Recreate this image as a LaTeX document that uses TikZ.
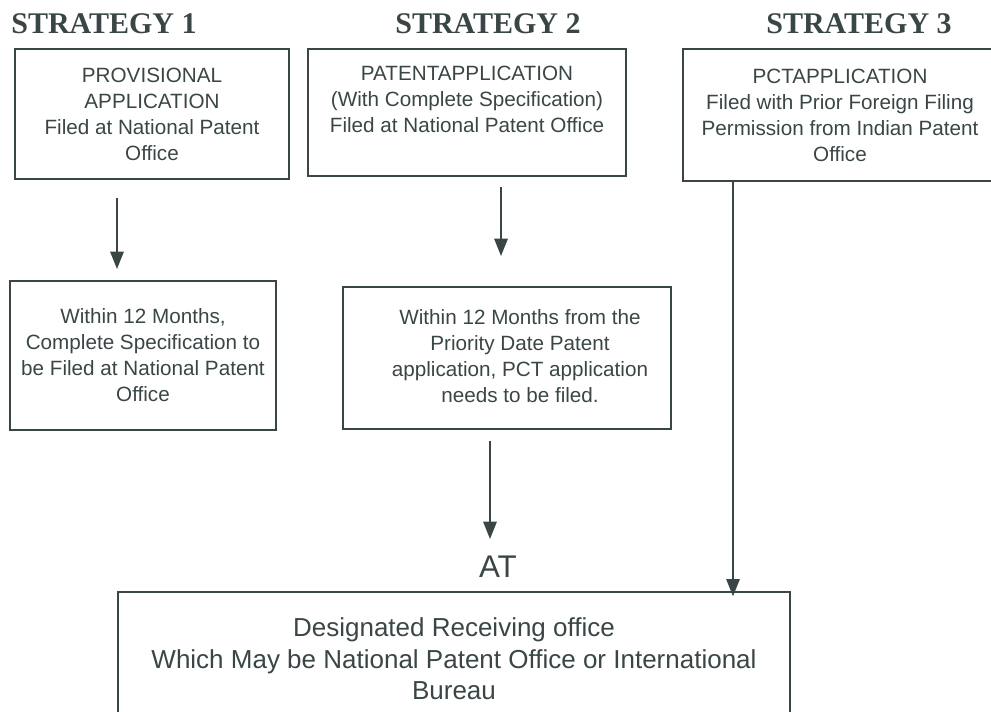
\documentclass[tikz,border=0pt]{standalone}
\usepackage{fontspec}
\setmainfont{Liberation Sans}
\newfontfamily\headfont{Liberation Serif}
\usepackage{tikz}
\usetikzlibrary{arrows.meta,positioning}
\definecolor{ink}{RGB}{58,70,70}
\tikzset{
    mybox/.style={rectangle,draw=ink,line width=1.5pt,text=ink,align=center,
      font=\fontsize{15.5}{19.5}\selectfont,inner sep=0pt},
    myhead/.style={text=ink,font=\headfont\bfseries\fontsize{22.5}{26}\selectfont,inner sep=0pt},
    pil/.style={-{Triangle[length=13pt,width=10pt]},draw=ink,line width=1.5pt}
}

\begin{document}
\begin{tikzpicture}[x=0.75pt,y=-0.75pt]
    \useasboundingbox (0,0) rectangle (991,711);
    \clip (0,0) rectangle (991,711);
    % headings
    \node[myhead] (head1) at (104,24) {STRATEGY 1};
    \node[myhead] (head2) at (488,24) {STRATEGY 2};
    \node[myhead] (head3) at (859,24) {STRATEGY 3};
    % first row
    \node[mybox, minimum width=205.5pt, minimum height=97.5pt] (prov) at (152,114)
      {PROVISIONAL\\APPLICATION\\Filed at National Patent\\Office};
    \node[mybox, minimum width=238.5pt, minimum height=95.25pt] (patent) at (467,112.5)
      {PATENTAPPLICATION\\(With Complete Specification)\\Filed at National Patent Office\\[-6pt]\strut};
    \node[mybox, minimum width=235.5pt, minimum height=99pt] (pct) at (840,115)
      {PCTAPPLICATION\\Filed with Prior Foreign Filing\\Permission from Indian Patent\\Office};
    % second row
    \node[mybox, minimum width=199.5pt, minimum height=111.75pt] (complete) at (143,355.5)
      {Within 12 Months,\\Complete Specification to\\be Filed at National Patent\\Office};
    \node[mybox, minimum width=246pt, minimum height=106.5pt] (within) at (507,358)
      {\hspace*{19.5pt}\begin{tabular}{@{}c@{}}Within 12 Months from the\\Priority Date Patent\\application, PCT application\\needs to be filed.\end{tabular}};
    % bottom
    \node[text=ink, inner sep=0pt, font=\fontsize{23.5}{28}\selectfont] (at) at (498,567) {AT};
    \node[mybox, minimum width=504pt, minimum height=100.5pt,
      font=\fontsize{19.5}{23.6}\selectfont] (office) at (454,659)
      {Designated Receiving office\\Which May be National Patent Office or International\\Bureau};
    % arrows
    \coordinate (x1) at (117,0);
    \coordinate (x2) at (501,0);
    \coordinate (x3) at (490,0);
    \coordinate (x4) at (733,0);
    \draw[pil, shorten <=13.5pt, shorten >=8.25pt] (x1 |- prov.south) -- (x1 |- complete.north);
    \draw[pil, shorten <=7.5pt, shorten >=22.5pt] (x2 |- patent.south) -- (x2 |- within.north);
    \draw[pil, shorten <=8.25pt, shorten >=39pt] (x3 |- within.south) -- (x3 |- office.north);
    \draw[pil, shorten >=-4pt] (x4 |- pct.south) -- (x4 |- office.north);
\end{tikzpicture}
\end{document}
